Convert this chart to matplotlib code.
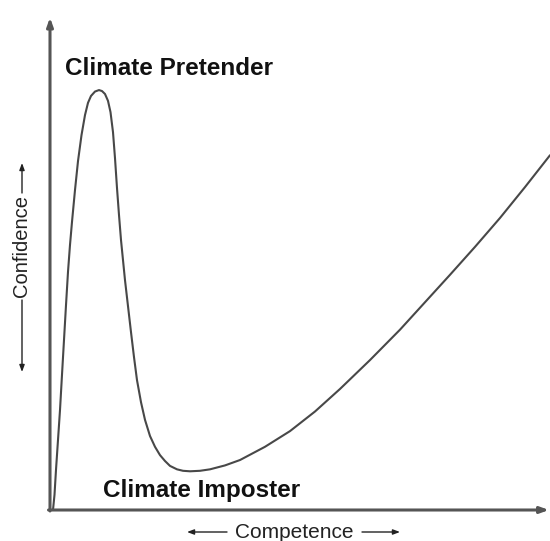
import matplotlib
matplotlib.use("Agg")
import matplotlib.pyplot as plt

# curve: competence (0-100) vs confidence (0-100)
competence = [0.6, 0.9, 1.2, 1.6, 2.0, 2.4, 2.8, 3.2, 3.6, 4.0, 4.4, 5.0,
              5.6, 6.3, 7.0, 7.6, 8.2, 9.0, 9.8, 10.4, 11.0, 11.6, 12.1,
              12.6, 13.0, 13.4, 13.8, 14.2, 15.0, 15.6, 16.2, 16.8, 17.4,
              18.2, 19.0, 20.0, 21.0, 22.0, 23.0, 24.0, 25.4, 26.6, 28.0,
              30.0, 32.0, 35.0, 38.0, 43.0, 48.0, 53.0, 58.0, 64.0, 70.0,
              75.0, 80.0, 85.0, 90.0, 95.0, 100.0]
confidence = [0.0, 3.1, 8.2, 14.3, 20.4, 27.6, 34.7, 41.8, 48.6, 54.1, 58.8, 65.3,
              71.2, 76.5, 80.6, 83.1, 84.5, 85.4, 85.7, 85.5, 84.9, 83.5, 81.2,
              77.1, 71.8, 65.7, 60.2, 55.1, 46.9, 41.6, 36.3, 31.2, 26.5,
              22.0, 18.4, 15.1, 12.9, 11.2, 10.0, 9.0, 8.3, 8.0, 7.9,
              8.0, 8.3, 9.1, 10.2, 12.9, 16.1, 20.1, 24.7, 30.6, 36.8,
              42.4, 48.0, 53.7, 59.6, 65.9, 72.4]

peak_label = "Climate Pretender"
dip_label = "Climate Imposter"
x_label = "Competence"
y_label = "Confidence"

plt.rcParams["font.family"] = ["Liberation Sans", "DejaVu Sans"]

fig = plt.figure(figsize=(5.5, 5.41), dpi=100)
ax = fig.add_axes([50 / 550, 31 / 541, 500 / 550, 490 / 541])
ax.set_xlim(0, 100)
ax.set_ylim(0, 100)
ax.axis("off")

ax.plot(competence, confidence, color="#484848", lw=1.5, solid_joinstyle="round",
        solid_capstyle="round", clip_on=False)

# axes with arrow heads
axis_style = dict(arrowstyle="-|>,head_length=0.5,head_width=0.18", color="#555555",
                  lw=2.2, shrinkA=0, shrinkB=0)
ax.annotate("", xy=(0, 1.005), xytext=(0, -0.002), xycoords="axes fraction",
            arrowprops=axis_style, annotation_clip=False)
ax.annotate("", xy=(0.998, 0), xytext=(-0.003, 0), xycoords="axes fraction",
            arrowprops=axis_style, annotation_clip=False)

ax.text(3, 90.0, peak_label, fontsize=17.5, fontweight="bold", color="#111111",
        va="center", ha="left")
ax.text(10.6, 4.0, dip_label, fontsize=17.5, fontweight="bold", color="#111111",
        va="center", ha="left")


def label_arrow(x0, y0, x1, y1):
    # small arrow next to an axis title, given in pixels from the top left
    ax.annotate("", xy=(x1 / 550, 1 - y1 / 541), xytext=(x0 / 550, 1 - y0 / 541),
                xycoords="figure fraction", annotation_clip=False,
                arrowprops=dict(arrowstyle="-|>,head_length=0.4,head_width=0.15",
                                color="#222222", lw=1.0, shrinkA=0, shrinkB=0))


fig.text(294 / 550, 1 - 533 / 541, x_label, fontsize=15, color="#222222",
         ha="center", va="center")
label_arrow(227, 532, 187, 532)
label_arrow(362, 532, 400, 532)

fig.text(22 / 550, 1 - 246 / 541, y_label, fontsize=14.5, color="#222222",
         ha="center", va="center", rotation=90)
label_arrow(22, 193, 22, 163)
label_arrow(22, 300, 22, 372)

fig.savefig("out.png", dpi=100, facecolor="white")
